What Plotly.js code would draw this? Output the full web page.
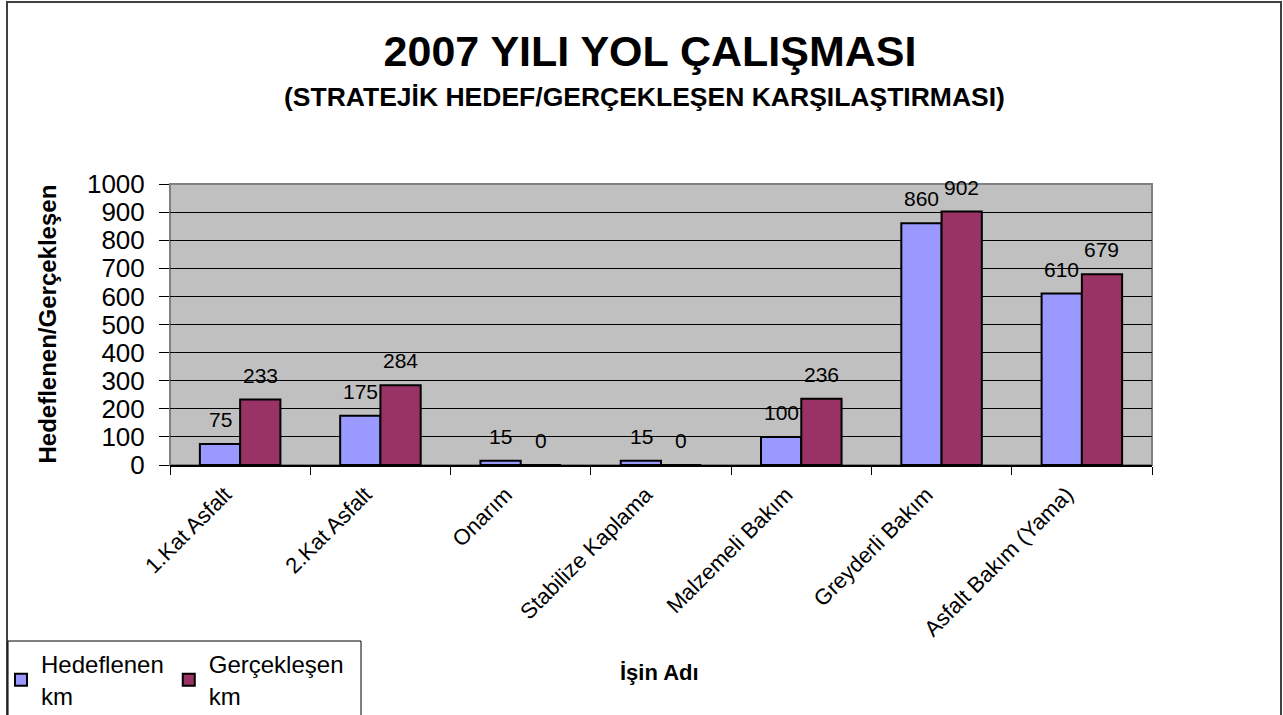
<!DOCTYPE html>
<html>
<head>
<meta charset="utf-8">
<script src="https://cdn.plot.ly/plotly-3.0.1.min.js"></script>
<style>
html,body{margin:0;padding:0;background:#fff;}
#chart{width:1283px;height:715px;}
</style>
</head>
<body>
<div id="chart"></div>
<script>
const categories = ['1.Kat Asfalt','2.Kat Asfalt','Onarım','Stabilize Kaplama','Malzemeli Bakım','Greyderli Bakım','Asfalt Bakım (Yama)'];
const hedeflenen = [75,175,15,15,100,860,610];
const gerceklesen = [233,284,0,0,236,902,679];
const seriesNames = ['Hedeflenen<br>km','Gerçekleşen<br>km'];
const yTicks = [0,100,200,300,400,500,600,700,800,900,1000];

const FONT = 'Liberation Sans, Arial, sans-serif';
const W = 1283, H = 715;
const M = {l:170, r:131, t:184, b:250};
const PW = W - M.l - M.r, PH = H - M.t - M.b;
const px = x => (x - M.l) / PW;
const py = y => (M.t + PH - y) / PH;

const traces = [
  {type:'bar', name:seriesNames[0], x:categories, y:hedeflenen,
   marker:{color:'#9999FF', line:{color:'#000', width:2}}, hoverinfo:'skip'},
  {type:'bar', name:seriesNames[1], x:categories, y:gerceklesen,
   marker:{color:'#993366', line:{color:'#000', width:2}}, hoverinfo:'skip'}
];

const annotations = [];
[hedeflenen, gerceklesen].forEach((vals, s) => {
  vals.forEach((v, i) => {
    annotations.push({x:categories[i], y:v, xref:'x', yref:'y', text:String(v),
      showarrow:false, xanchor:'center', yanchor:'bottom',
      xshift: s === 0 ? -20 : 20, yshift:11,
      font:{family:FONT, size:21, color:'#000'}});
  });
});
annotations.push({xref:'paper', yref:'paper', x:px(644), y:py(97), xanchor:'center', yanchor:'middle',
  showarrow:false, text:'<b>(STRATEJİK HEDEF/GERÇEKLEŞEN KARŞILAŞTIRMASI)</b>',
  font:{family:FONT, size:26.5, color:'#000'}});
annotations.push({xref:'paper', yref:'paper', x:px(47), y:0.5, xanchor:'center', yanchor:'middle',
  showarrow:false, textangle:-90, text:'<b>Hedeflenen/Gerçekleşen</b>',
  font:{family:FONT, size:24, color:'#000'}});
annotations.push({xref:'paper', yref:'paper', x:px(659), y:py(672), xanchor:'center', yanchor:'middle',
  showarrow:false, text:'<b>İşin Adı</b>',
  font:{family:FONT, size:22, color:'#000'}});

const layout = {
  width:W, height:H,
  margin:M,
  paper_bgcolor:'#fff', plot_bgcolor:'#C0C0C0',
  font:{family:FONT, color:'#000'},
  title:{text:'<b>2007 YILI YOL ÇALIŞMASI</b>', xref:'container', yref:'container',
    x:650/W, y:1-51/H, xanchor:'center', yanchor:'middle',
    font:{family:FONT, size:43, color:'#000'}},
  barmode:'group', bargap:0.426, bargroupgap:0,
  xaxis:{type:'category', tickangle:-45, tickfont:{family:FONT, size:22, color:'#000'},
    ticks:'outside', tickson:'boundaries', ticklen:8, tickcolor:'#000', tickwidth:1,
    ticklabelshift:-15, ticklabelstandoff:6,
    showline:true, linecolor:'#000', linewidth:2, showgrid:false, fixedrange:true, automargin:false},
  yaxis:{range:[0,1000], tickvals:yTicks, ticktext:yTicks.map(String),
    tickfont:{family:FONT, size:26, color:'#000'},
    ticks:'outside', ticklen:10, tickcolor:'#000', tickwidth:1, ticklabelstandoff:9,
    showgrid:true, gridcolor:'#000', gridwidth:1, zeroline:false,
    showline:false, fixedrange:true, automargin:false},
  showlegend:true,
  legend:{orientation:'h', xref:'container', yref:'container', x:1/W, y:1-642/H, xanchor:'left', yanchor:'top',
    bgcolor:'rgba(0,0,0,0)', borderwidth:0, font:{family:FONT, size:24, color:'#000'},
    traceorder:'normal', itemwidth:30},
  shapes:[
    {type:'rect', xref:'paper', yref:'paper', x0:0, x1:1, y0:0, y1:1, layer:'below',
     line:{color:'#808080', width:2}},
    {type:'rect', xref:'paper', yref:'paper', x0:px(7), x1:px(1281), y0:py(720), y1:py(2),
     line:{color:'#404040', width:2}},
    {type:'rect', xref:'paper', yref:'paper', x0:px(8), x1:px(361), y0:py(720), y1:py(641),
     line:{color:'#000', width:1}}
  ],
  annotations:annotations
};

Plotly.newPlot('chart', traces, layout, {displayModeBar:false, staticPlot:true});
</script>
</body>
</html>
